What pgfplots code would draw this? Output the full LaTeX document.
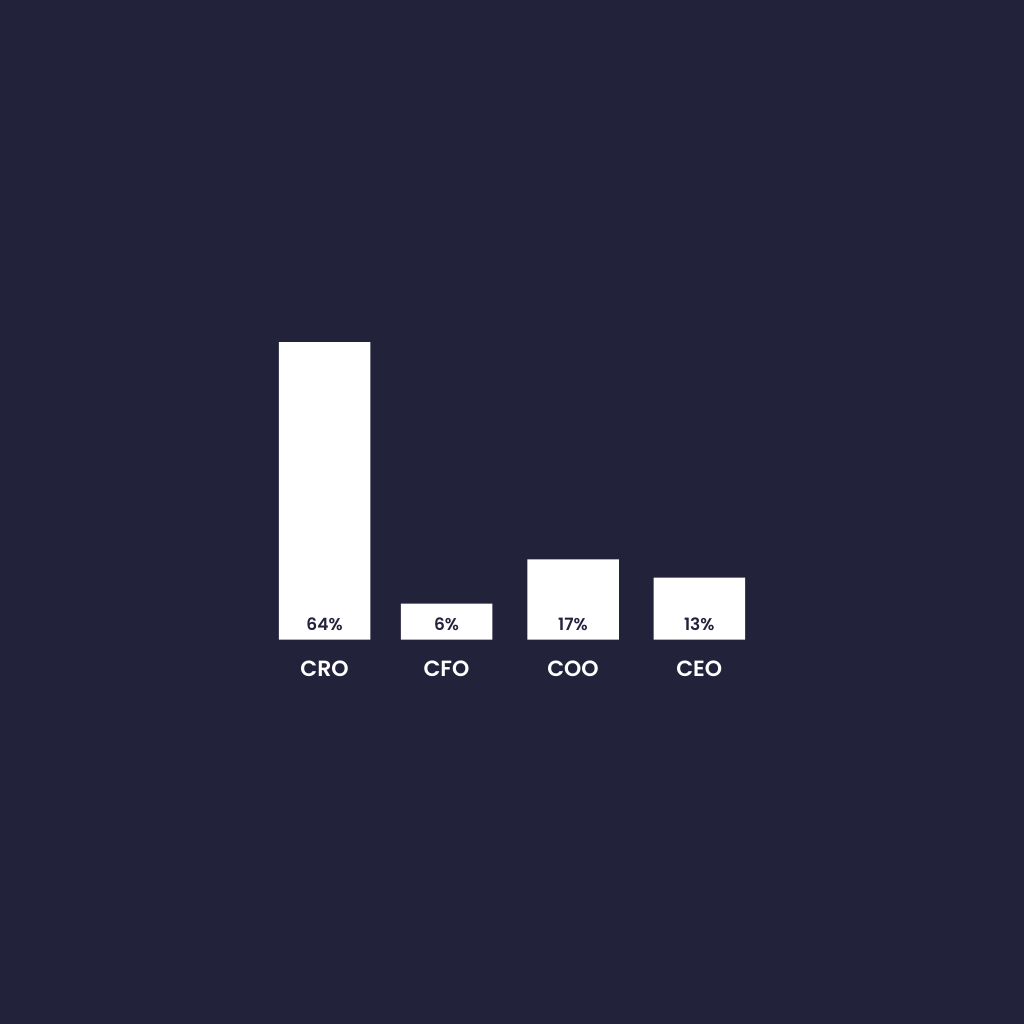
\documentclass[border=0pt]{standalone}
\usepackage{pgfplots}
\pgfplotsset{compat=1.18}
\usepackage{fontspec}
\setmainfont{Poppins}
\newfontfamily\medfont{Poppins Medium}
\newfontfamily\semifont{Poppins SemiBold}
\definecolor{bgnavy}{HTML}{22233B}

\begin{document}
\begin{tikzpicture}
\fill[bgnavy] (0,0) rectangle (1024bp,1024bp);
\useasboundingbox (0,0) rectangle (1024bp,1024bp);
\begin{axis}[
    at={(262bp,384.3bp)},
    anchor=south west,
    scale only axis,
    width=500bp,
    height=329bp,
    xmin=-0.5, xmax=3.5,
    ymin=0, ymax=70,
    axis line style={draw=none},
    tick style={draw=none},
    ytick=\empty,
    xtick={0,0.976,1.988,2.998},
    xticklabels={CRO,CFO,COO,CEO},
    xticklabel style={anchor=center, yshift=-28.6bp, text=white,
        font=\semifont\fontsize{22bp}{26bp}\selectfont},
    clip=false
]
% bar heights as drawn (CFO bar is drawn slightly taller than its 6%)
\addplot[ybar, bar width=91.5bp, fill=white, draw=none]
    coordinates {(0,63.3) (0.976,7.66) (1.988,17.1) (2.998,13.2)};
% value labels at the foot of each bar
\addplot[draw=none, mark=none, nodes near coords,
    point meta=explicit symbolic,
    nodes near coords style={anchor=center, yshift=15.7bp, text=bgnavy,
        font=\semifont\fontsize{17bp}{20bp}\selectfont}]
    coordinates {(0,0)[64\%] (0.976,0)[6\%] (1.988,0)[17\%] (2.998,0)[13\%]};
\end{axis}
\end{tikzpicture}
\end{document}
